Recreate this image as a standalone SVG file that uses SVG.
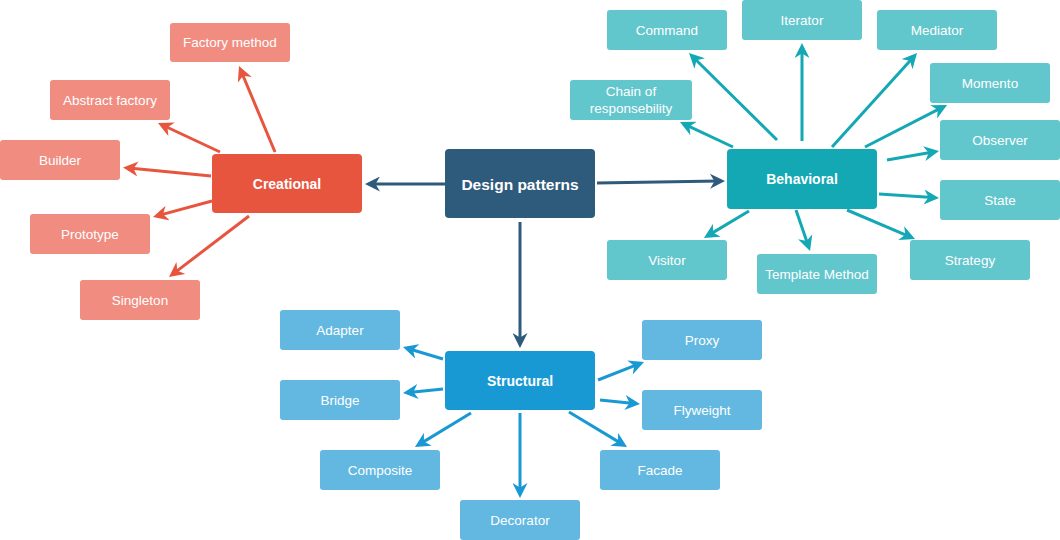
<svg xmlns="http://www.w3.org/2000/svg" width="1060" height="540" viewBox="0 0 1060 540">
<defs>
<style>
.t{font-family:"Liberation Sans",Arial,sans-serif;fill:#fff;text-anchor:middle;dominant-baseline:central}
.leaf{font-size:13.5px}
.hub{font-size:14px;font-weight:bold}
.main{font-size:15.5px;font-weight:bold}
.c{fill:none;stroke-width:3}
.cd{stroke:#2e5a7b}.cr{stroke:#e8553f}.ct{stroke:#13a8b4}.cb{stroke:#1899d3}
.nd{fill:#2e5a7b}.nr{fill:#e8553f}.nt{fill:#13a8b4}.nb{fill:#1899d3}
.lr{fill:#f08c80}.lt{fill:#62c6cd}.lb{fill:#63b8e1}
</style>
<marker id="ad" viewBox="0 0 15 15" refX="9" refY="7.5" markerWidth="15" markerHeight="15" markerUnits="userSpaceOnUse" orient="auto"><path d="M0,0 L15,7.5 L0,15 L4.5,7.5 Z" fill="#2e5a7b"/></marker>
<marker id="ar" viewBox="0 0 15 15" refX="9" refY="7.5" markerWidth="15" markerHeight="15" markerUnits="userSpaceOnUse" orient="auto"><path d="M0,0 L15,7.5 L0,15 L4.5,7.5 Z" fill="#e8553f"/></marker>
<marker id="at" viewBox="0 0 15 15" refX="9" refY="7.5" markerWidth="15" markerHeight="15" markerUnits="userSpaceOnUse" orient="auto"><path d="M0,0 L15,7.5 L0,15 L4.5,7.5 Z" fill="#13a8b4"/></marker>
<marker id="ab" viewBox="0 0 15 15" refX="9" refY="7.5" markerWidth="15" markerHeight="15" markerUnits="userSpaceOnUse" orient="auto"><path d="M0,0 L15,7.5 L0,15 L4.5,7.5 Z" fill="#1899d3"/></marker>
</defs>
<rect width="1060" height="540" fill="#fff"/>
<g id="connectors">
<line class="c cd" x1="445" y1="184" x2="371" y2="184" marker-end="url(#ad)"/>
<line class="c cd" x1="597" y1="183" x2="719" y2="181.1" marker-end="url(#ad)"/>
<line class="c cd" x1="520" y1="222" x2="520" y2="342" marker-end="url(#ad)"/>
<line class="c cr" x1="275" y1="152" x2="241.3" y2="71.5" marker-end="url(#ar)"/>
<line class="c cr" x1="220" y1="152" x2="163.4" y2="125.5" marker-end="url(#ar)"/>
<line class="c cr" x1="211" y1="176" x2="129" y2="168.1" marker-end="url(#ar)"/>
<line class="c cr" x1="212" y1="201" x2="158.8" y2="215.4" marker-end="url(#ar)"/>
<line class="c cr" x1="249" y1="216" x2="173.8" y2="273.4" marker-end="url(#ar)"/>
<line class="c ct" x1="733" y1="147" x2="685.4" y2="124.6" marker-end="url(#at)"/>
<line class="c ct" x1="777" y1="140" x2="693.3" y2="57.2" marker-end="url(#at)"/>
<line class="c ct" x1="802" y1="141" x2="802" y2="49" marker-end="url(#at)"/>
<line class="c ct" x1="832" y1="147" x2="913" y2="57.5" marker-end="url(#at)"/>
<line class="c ct" x1="865" y1="147" x2="941.7" y2="107.7" marker-end="url(#at)"/>
<line class="c ct" x1="887" y1="160" x2="933.1" y2="152" marker-end="url(#at)"/>
<line class="c ct" x1="879" y1="194" x2="933" y2="197.6" marker-end="url(#at)"/>
<line class="c ct" x1="847" y1="210" x2="909.5" y2="236.6" marker-end="url(#at)"/>
<line class="c ct" x1="796" y1="210" x2="808.1" y2="245.3" marker-end="url(#at)"/>
<line class="c ct" x1="749" y1="211" x2="709.1" y2="234.9" marker-end="url(#at)"/>
<line class="c cb" x1="443" y1="359" x2="408.7" y2="348.7" marker-end="url(#ab)"/>
<line class="c cb" x1="443" y1="389" x2="409" y2="392.4" marker-end="url(#ab)"/>
<line class="c cb" x1="471" y1="413" x2="420.1" y2="443.9" marker-end="url(#ab)"/>
<line class="c cb" x1="520" y1="413" x2="520" y2="492" marker-end="url(#ab)"/>
<line class="c cb" x1="569" y1="412" x2="621.9" y2="443.9" marker-end="url(#ab)"/>
<line class="c cb" x1="600" y1="400" x2="634" y2="403.4" marker-end="url(#ab)"/>
<line class="c cb" x1="598" y1="380" x2="638.4" y2="364.2" marker-end="url(#ab)"/>
</g>
<g id="design-patterns"><rect class="nd" x="445" y="149" width="150" height="69" rx="4"/><text class="t main" x="520" y="184">Design patterns</text></g>
<g id="creational"><rect class="nr" x="212" y="154" width="150" height="59" rx="4"/><text class="t hub" x="287" y="184">Creational</text></g>
<g id="behavioral"><rect class="nt" x="727" y="149" width="150" height="60" rx="4"/><text class="t hub" x="802" y="179">Behavioral</text></g>
<g id="structural"><rect class="nb" x="445" y="351" width="150" height="59" rx="4"/><text class="t hub" x="520" y="380.5">Structural</text></g>
<g id="factory-method"><rect class="lr" x="170" y="23" width="120" height="39" rx="3"/><text class="t leaf" x="230" y="42.5">Factory method</text></g>
<g id="abstract-factory"><rect class="lr" x="50" y="80" width="120" height="40" rx="3"/><text class="t leaf" x="110" y="100">Abstract factory</text></g>
<g id="builder"><rect class="lr" x="0" y="140" width="120" height="40" rx="3"/><text class="t leaf" x="60" y="160">Builder</text></g>
<g id="prototype"><rect class="lr" x="30" y="214" width="120" height="40" rx="3"/><text class="t leaf" x="90" y="234">Prototype</text></g>
<g id="singleton"><rect class="lr" x="80" y="280" width="120" height="40" rx="3"/><text class="t leaf" x="140" y="300">Singleton</text></g>
<g id="command"><rect class="lt" x="607" y="10" width="120" height="40" rx="3"/><text class="t leaf" x="667" y="30">Command</text></g>
<g id="iterator"><rect class="lt" x="742" y="0" width="120" height="40" rx="3"/><text class="t leaf" x="802" y="20">Iterator</text></g>
<g id="mediator"><rect class="lt" x="877" y="10" width="120" height="40" rx="3"/><text class="t leaf" x="937" y="30">Mediator</text></g>
<g id="momento"><rect class="lt" x="930" y="63" width="120" height="40" rx="3"/><text class="t leaf" x="990" y="83">Momento</text></g>
<g id="chain"><rect class="lt" x="570" y="80" width="122" height="40" rx="3"/><text class="t leaf" x="631" y="91.5">Chain of</text><text class="t leaf" x="631" y="108.5">responsebility</text></g>
<g id="observer"><rect class="lt" x="940" y="120" width="120" height="40" rx="3"/><text class="t leaf" x="1000" y="140">Observer</text></g>
<g id="state"><rect class="lt" x="940" y="180" width="120" height="40" rx="3"/><text class="t leaf" x="1000" y="200">State</text></g>
<g id="strategy"><rect class="lt" x="910" y="240" width="120" height="40" rx="3"/><text class="t leaf" x="970" y="260">Strategy</text></g>
<g id="template-method"><rect class="lt" x="757" y="254" width="120" height="40" rx="3"/><text class="t leaf" x="817" y="274">Template Method</text></g>
<g id="visitor"><rect class="lt" x="607" y="240" width="120" height="40" rx="3"/><text class="t leaf" x="667" y="260">Visitor</text></g>
<g id="adapter"><rect class="lb" x="280" y="310" width="120" height="40" rx="3"/><text class="t leaf" x="340" y="330">Adapter</text></g>
<g id="bridge"><rect class="lb" x="280" y="380" width="120" height="40" rx="3"/><text class="t leaf" x="340" y="400">Bridge</text></g>
<g id="composite"><rect class="lb" x="320" y="450" width="120" height="40" rx="3"/><text class="t leaf" x="380" y="470">Composite</text></g>
<g id="decorator"><rect class="lb" x="460" y="500" width="120" height="40" rx="3"/><text class="t leaf" x="520" y="520">Decorator</text></g>
<g id="facade"><rect class="lb" x="600" y="450" width="120" height="40" rx="3"/><text class="t leaf" x="660" y="470">Facade</text></g>
<g id="flyweight"><rect class="lb" x="642" y="390" width="120" height="40" rx="3"/><text class="t leaf" x="702" y="410">Flyweight</text></g>
<g id="proxy"><rect class="lb" x="642" y="320" width="120" height="40" rx="3"/><text class="t leaf" x="702" y="340">Proxy</text></g>
</svg>
